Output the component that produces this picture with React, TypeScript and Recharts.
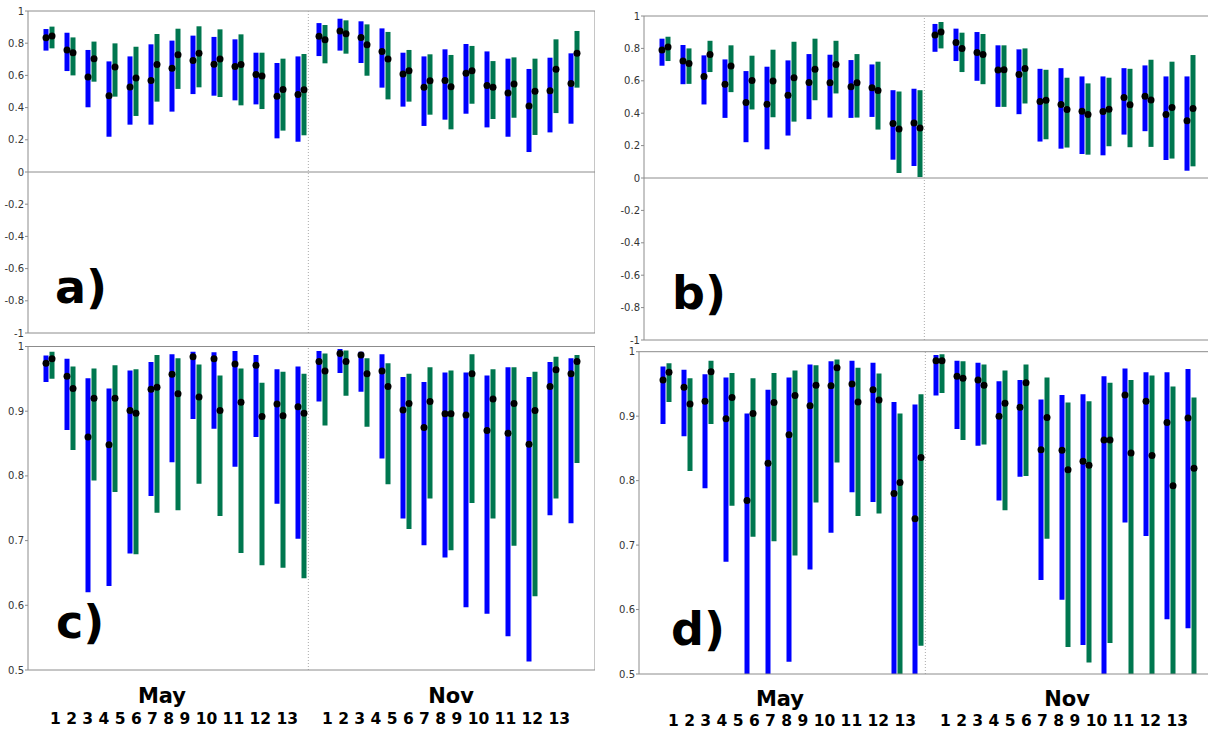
import React from 'react';
import { ComposedChart, Bar, Line, XAxis, YAxis, ReferenceLine } from 'recharts';

const DAYS = ['1', '2', '3', '4', '5', '6', '7', '8', '9', '10', '11', '12', '13'];
const MONTHS = ['May', 'Nov'];
const X_TICKS = Array.from({ length: 28 }, (_, i) => i);
const Y_TICKS_FULL = [-1, -0.8, -0.6, -0.4, -0.2, 0, 0.2, 0.4, 0.6, 0.8, 1];
const Y_TICKS_HIGH = [0.5, 0.6, 0.7, 0.8, 0.9, 1];

// panel a
const A_BLUE_HI = [0.888, 0.865, 0.758, 0.687, 0.718, 0.793, 0.816, 0.847, 0.839, 0.824, 0.741, 0.677, 0.718, 0.925, 0.952, 0.936, 0.892, 0.741, 0.718, 0.762, 0.795, 0.749, 0.704, 0.64, 0.71, 0.737];
const A_BLUE_LO = [0.754, 0.627, 0.402, 0.219, 0.294, 0.294, 0.375, 0.484, 0.474, 0.445, 0.42, 0.209, 0.188, 0.72, 0.754, 0.677, 0.524, 0.406, 0.286, 0.325, 0.362, 0.277, 0.219, 0.124, 0.246, 0.3];
const A_BLUE_MED = [0.834, 0.758, 0.59, 0.474, 0.528, 0.569, 0.644, 0.692, 0.669, 0.656, 0.605, 0.47, 0.482, 0.843, 0.876, 0.836, 0.749, 0.609, 0.526, 0.569, 0.613, 0.538, 0.491, 0.41, 0.505, 0.549];
const A_GREEN_HI = [0.903, 0.836, 0.81, 0.799, 0.778, 0.857, 0.89, 0.905, 0.886, 0.855, 0.741, 0.704, 0.733, 0.913, 0.942, 0.917, 0.87, 0.758, 0.731, 0.727, 0.783, 0.689, 0.712, 0.704, 0.824, 0.876];
const A_GREEN_LO = [0.768, 0.6, 0.561, 0.468, 0.348, 0.437, 0.516, 0.526, 0.466, 0.414, 0.391, 0.257, 0.228, 0.675, 0.735, 0.598, 0.451, 0.437, 0.356, 0.265, 0.424, 0.329, 0.337, 0.23, 0.366, 0.524];
const A_GREEN_MED = [0.845, 0.741, 0.704, 0.652, 0.584, 0.667, 0.729, 0.737, 0.702, 0.667, 0.596, 0.513, 0.511, 0.822, 0.859, 0.791, 0.702, 0.629, 0.567, 0.53, 0.629, 0.526, 0.547, 0.501, 0.638, 0.737];

// panel b
const B_BLUE_HI = [0.86, 0.821, 0.757, 0.732, 0.66, 0.687, 0.726, 0.765, 0.761, 0.728, 0.701, 0.542, 0.551, 0.951, 0.922, 0.901, 0.819, 0.794, 0.674, 0.678, 0.627, 0.627, 0.678, 0.695, 0.627, 0.627];
const B_BLUE_LO = [0.693, 0.579, 0.454, 0.371, 0.221, 0.177, 0.262, 0.363, 0.373, 0.371, 0.377, 0.113, 0.074, 0.779, 0.722, 0.6, 0.439, 0.394, 0.225, 0.181, 0.148, 0.14, 0.268, 0.289, 0.111, 0.045];
const B_BLUE_MED = [0.79, 0.722, 0.627, 0.579, 0.466, 0.456, 0.511, 0.59, 0.588, 0.563, 0.557, 0.336, 0.34, 0.882, 0.837, 0.775, 0.666, 0.639, 0.472, 0.454, 0.412, 0.41, 0.497, 0.505, 0.392, 0.353];
const B_GREEN_HI = [0.872, 0.8, 0.847, 0.819, 0.755, 0.792, 0.841, 0.86, 0.847, 0.765, 0.718, 0.534, 0.542, 0.963, 0.897, 0.889, 0.819, 0.8, 0.668, 0.619, 0.584, 0.619, 0.674, 0.73, 0.718, 0.759];
const B_GREEN_LO = [0.722, 0.581, 0.654, 0.53, 0.423, 0.375, 0.348, 0.48, 0.522, 0.373, 0.299, 0.031, 0.006, 0.8, 0.654, 0.579, 0.439, 0.46, 0.239, 0.188, 0.144, 0.196, 0.19, 0.192, 0.12, 0.072];
const B_GREEN_MED = [0.808, 0.707, 0.763, 0.691, 0.602, 0.598, 0.619, 0.672, 0.701, 0.588, 0.54, 0.303, 0.309, 0.901, 0.8, 0.763, 0.668, 0.676, 0.48, 0.423, 0.392, 0.425, 0.452, 0.482, 0.435, 0.429];

// panel c
const C_BLUE_HI = [0.986, 0.981, 0.951, 0.935, 0.963, 0.976, 0.988, 0.992, 0.991, 0.993, 0.987, 0.965, 0.969, 0.993, 0.996, 0.992, 0.988, 0.953, 0.945, 0.96, 0.96, 0.955, 0.968, 0.953, 0.976, 0.982];
const C_BLUE_LO = [0.945, 0.871, 0.62, 0.63, 0.68, 0.769, 0.821, 0.888, 0.873, 0.814, 0.86, 0.757, 0.703, 0.915, 0.959, 0.93, 0.827, 0.734, 0.693, 0.674, 0.597, 0.587, 0.552, 0.513, 0.739, 0.727];
const C_BLUE_MED = [0.974, 0.954, 0.86, 0.848, 0.901, 0.934, 0.957, 0.984, 0.981, 0.973, 0.971, 0.911, 0.907, 0.977, 0.989, 0.987, 0.962, 0.902, 0.875, 0.896, 0.894, 0.87, 0.866, 0.849, 0.938, 0.958];
const C_GREEN_HI = [0.992, 0.969, 0.966, 0.971, 0.965, 0.987, 0.982, 0.972, 0.955, 0.966, 0.944, 0.961, 0.958, 0.989, 0.994, 0.982, 0.974, 0.958, 0.968, 0.963, 0.988, 0.965, 0.968, 0.961, 0.984, 0.987];
const C_GREEN_LO = [0.95, 0.84, 0.793, 0.775, 0.679, 0.743, 0.747, 0.788, 0.738, 0.681, 0.662, 0.658, 0.642, 0.878, 0.924, 0.876, 0.787, 0.718, 0.765, 0.685, 0.758, 0.734, 0.692, 0.614, 0.765, 0.82];
const C_GREEN_MED = [0.981, 0.935, 0.92, 0.92, 0.897, 0.937, 0.927, 0.922, 0.901, 0.914, 0.892, 0.893, 0.897, 0.962, 0.977, 0.958, 0.938, 0.912, 0.915, 0.896, 0.958, 0.919, 0.912, 0.901, 0.964, 0.977];

// panel d (lows under 0.5 run off the axis)
const D_BLUE_HI = [0.977, 0.972, 0.965, 0.96, 0.904, 0.941, 0.96, 0.98, 0.985, 0.986, 0.983, 0.922, 0.918, 0.995, 0.986, 0.983, 0.954, 0.956, 0.926, 0.933, 0.934, 0.962, 0.974, 0.968, 0.968, 0.973];
const D_BLUE_LO = [0.888, 0.869, 0.788, 0.674, 0.45, 0.45, 0.519, 0.662, 0.719, 0.782, 0.767, 0.45, 0.45, 0.932, 0.88, 0.854, 0.769, 0.806, 0.646, 0.615, 0.545, 0.45, 0.735, 0.714, 0.585, 0.571];
const D_BLUE_MED = [0.956, 0.945, 0.923, 0.896, 0.769, 0.827, 0.871, 0.916, 0.947, 0.95, 0.941, 0.78, 0.741, 0.986, 0.962, 0.956, 0.9, 0.914, 0.848, 0.847, 0.83, 0.863, 0.933, 0.923, 0.89, 0.897];
const D_GREEN_HI = [0.982, 0.959, 0.986, 0.967, 0.959, 0.967, 0.971, 0.979, 0.988, 0.975, 0.966, 0.904, 0.934, 0.996, 0.985, 0.98, 0.971, 0.98, 0.96, 0.921, 0.923, 0.952, 0.956, 0.963, 0.946, 0.929];
const D_GREEN_LO = [0.922, 0.815, 0.888, 0.761, 0.713, 0.706, 0.684, 0.766, 0.828, 0.745, 0.749, 0.45, 0.544, 0.936, 0.863, 0.856, 0.754, 0.807, 0.71, 0.542, 0.518, 0.548, 0.45, 0.45, 0.45, 0.45];
const D_GREEN_MED = [0.968, 0.919, 0.969, 0.929, 0.904, 0.921, 0.932, 0.948, 0.975, 0.922, 0.925, 0.797, 0.836, 0.986, 0.959, 0.948, 0.92, 0.952, 0.898, 0.817, 0.824, 0.863, 0.843, 0.839, 0.792, 0.819];

const BLUE = '#0000ff';
const GREEN = '#00774f';
const AXIS = '#8c8c8c';
const FONT = 'DejaVu Sans';

function buildRows(bHi: number[], bLo: number[], bMed: number[], gHi: number[], gLo: number[], gMed: number[]) {
  return bHi.map((_, i) => ({
    x: i + 1,
    blue: [bLo[i], bHi[i]],
    green: [gLo[i], gHi[i]],
    bMed: bMed[i],
    gMed: gMed[i],
  }));
}

const medianDot = (shift: number) => (p: any) => {
  if (p.cx == null || p.cy == null) return <g key={`e${shift}-${p.index}`} />;
  return <circle key={`m${shift}-${p.index}`} cx={p.cx + shift} cy={p.cy} r={3.5} fill="#000" />;
};

interface PanelProps {
  rows: any[];
  left: number;
  top: number;
  width: number;
  height: number;
  marginTop: number;
  yWidth: number;
  xDomain: [number, number];
  yDomain: [number, number];
  yTicks: number[];
  zeroLine?: boolean;
  rightBorder?: boolean;
}

function Panel({ rows, left, top, width, height, marginTop, yWidth, xDomain, yDomain, yTicks, zeroLine, rightBorder }: PanelProps) {
  return (
    <div style={{ position: 'absolute', left, top }}>
      <ComposedChart
        width={width}
        height={height}
        data={rows}
        margin={{ top: marginTop, right: 0, bottom: 0, left: 0 }}
        barGap={1}
      >
        <XAxis
          dataKey="x"
          type="number"
          domain={xDomain}
          ticks={X_TICKS}
          allowDataOverflow
          tick={false}
          tickSize={3}
          height={10}
          stroke={AXIS}
        />
        <YAxis
          type="number"
          domain={yDomain}
          ticks={yTicks}
          interval={0}
          allowDataOverflow
          width={yWidth}
          tickSize={3}
          tickMargin={1}
          stroke={AXIS}
          tick={{ fill: '#333', fontSize: 10, fontFamily: FONT }}
        />
        <ReferenceLine y={yDomain[1]} stroke={AXIS} />
        {zeroLine && <ReferenceLine y={0} stroke={AXIS} />}
        {rightBorder && <ReferenceLine x={xDomain[1]} stroke={AXIS} />}
        <ReferenceLine x={13.35} stroke="#aaa" strokeDasharray="1 2" />
        <Bar dataKey="blue" fill={BLUE} barSize={5} isAnimationActive={false} />
        <Bar dataKey="green" fill={GREEN} barSize={5} isAnimationActive={false} />
        <Line dataKey="bMed" stroke="none" dot={medianDot(-3)} activeDot={false} isAnimationActive={false} />
        <Line dataKey="gMed" stroke="none" dot={medianDot(3)} activeDot={false} isAnimationActive={false} />
      </ComposedChart>
    </div>
  );
}

function MonthLabels({ left, monthY, dayY, monthCenters, dayStarts }: { left: number; monthY: number; dayY: number; monthCenters: number[]; dayStarts: number[] }) {
  return (
    <g fontFamily={FONT} fontWeight="bold" fill="#000">
      {MONTHS.map((m, i) => (
        <text key={m} x={left + monthCenters[i]} y={monthY} fontSize={21} textAnchor="middle">{m}</text>
      ))}
      {dayStarts.map((s, i) => (
        <text key={i} x={left + s} y={dayY} fontSize={15.5} xmlSpace="preserve">{DAYS.join(' ')}</text>
      ))}
    </g>
  );
}

export default function App() {
  const rowsA = buildRows(A_BLUE_HI, A_BLUE_LO, A_BLUE_MED, A_GREEN_HI, A_GREEN_LO, A_GREEN_MED);
  const rowsB = buildRows(B_BLUE_HI, B_BLUE_LO, B_BLUE_MED, B_GREEN_HI, B_GREEN_LO, B_GREEN_MED);
  const rowsC = buildRows(C_BLUE_HI, C_BLUE_LO, C_BLUE_MED, C_GREEN_HI, C_GREEN_LO, C_GREEN_MED);
  const rowsD = buildRows(D_BLUE_HI, D_BLUE_LO, D_BLUE_MED, D_GREEN_HI, D_GREEN_LO, D_GREEN_MED);

  return (
    <div style={{ position: 'absolute', left: 0, top: 0, width: 1208, height: 731, overflow: 'hidden', background: '#fff' }}>
      <Panel rows={rowsA} left={0} top={0} width={595} height={343} marginTop={11} yWidth={28}
        xDomain={[0, 27]} yDomain={[-1, 1]} yTicks={Y_TICKS_FULL} zeroLine rightBorder />
      <Panel rows={rowsB} left={600} top={0} width={611} height={350} marginTop={16} yWidth={44}
        xDomain={[0, 27]} yDomain={[-1, 1]} yTicks={Y_TICKS_FULL} zeroLine />
      <Panel rows={rowsC} left={0} top={335} width={595} height={345} marginTop={11.5} yWidth={28}
        xDomain={[0, 27]} yDomain={[0.5, 1]} yTicks={Y_TICKS_HIGH} rightBorder />
      <Panel rows={rowsD} left={600} top={340} width={612} height={344} marginTop={11.7} yWidth={39}
        xDomain={[-2 / 7, 27]} yDomain={[0.5, 1]} yTicks={Y_TICKS_HIGH} />
      <svg width={1208} height={731} style={{ position: 'absolute', left: 0, top: 0, pointerEvents: 'none' }}>
        <g fontFamily={FONT} fontWeight="bold" fontSize={46} fill="#000">
          <text x={55} y={303}>a)</text>
          <text x={672} y={309}>b)</text>
          <text x={56} y={638}>c)</text>
          <text x={671} y={645}>d)</text>
        </g>
        <MonthLabels left={0} monthY={703} dayY={724} monthCenters={[162, 451]} dayStarts={[50, 322]} />
        <MonthLabels left={600} monthY={706} dayY={726} monthCenters={[180, 467]} dayStarts={[68, 340]} />
      </svg>
    </div>
  );
}
